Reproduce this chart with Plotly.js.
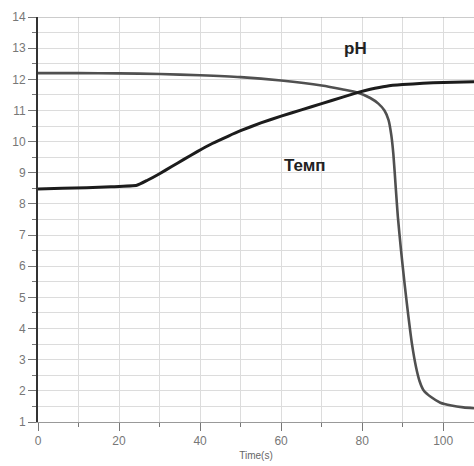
<!DOCTYPE html>
<html><head><meta charset="utf-8">
<script src="https://cdn.plot.ly/plotly-3.0.1.min.js"></script>
<style>html,body{margin:0;padding:0;background:#fff}#c{width:474px;height:466px}</style>
</head><body><div id="c"></div>
<script>
const phTime = [0, 10, 20, 30, 40, 50, 60, 70, 75, 79, 82, 84, 85.5, 86.5, 87.2, 87.7, 88.3, 88.8, 89.6, 90.5, 91.4, 92.3, 93.3, 94.2, 95.1, 97, 99.3, 102, 105, 107.6];
const phValues = [12.2, 12.2, 12.19, 12.17, 12.13, 12.07, 11.96, 11.8, 11.68, 11.57, 11.4, 11.22, 11.0, 10.7, 10.2, 9.6, 8.5, 7.6, 6.5, 5.4, 4.4, 3.5, 2.76, 2.3, 2.03, 1.8, 1.62, 1.53, 1.47, 1.44];
const tempTime = [0, 6, 12, 18, 24.4, 27, 30, 33, 36, 39.3, 43, 47, 50, 55, 60, 65, 70, 75, 79, 82, 86, 90, 95, 100, 107.6];
const tempValues = [8.48, 8.5, 8.52, 8.55, 8.6, 8.76, 8.97, 9.2, 9.43, 9.68, 9.94, 10.18, 10.35, 10.6, 10.82, 11.02, 11.22, 11.42, 11.58, 11.68, 11.78, 11.83, 11.87, 11.9, 11.92];
const xTickVals = [0, 20, 40, 60, 80, 100];
const yTickVals = [1,2,3,4,5,6,7,8,9,10,11,12,13,14];
const labelPH = "pH";
const labelTemp = "Темп";
const xTitle = "Time(s)";

const data = [
  {x: phTime, y: phValues, mode: 'lines', line: {color: '#505050', width: 2.6, shape: 'spline', smoothing: 0.6}, hoverinfo: 'skip'},
  {x: tempTime, y: tempValues, mode: 'lines', line: {color: '#1c1c1c', width: 3, shape: 'spline', smoothing: 0.4}, hoverinfo: 'skip'}
];
const tickFont = {family: 'Liberation Sans, Arial, sans-serif', size: 12, color: '#777'};
const layout = {
  width: 474, height: 466,
  margin: {l: 38, r: 0, t: 17, b: 44},
  paper_bgcolor: '#fff', plot_bgcolor: '#fff',
  showlegend: false,
  xaxis: {
    range: [0, 107.6], tickvals: xTickVals, ticks: 'outside', ticklen: 8, tickcolor: '#777', tickwidth: 1,
    showgrid: true, gridcolor: '#dcdcdc', gridwidth: 1, zeroline: false,
    showline: true, linecolor: '#999', linewidth: 1,
    minor: {dtick: 10, showgrid: true, gridcolor: '#dcdcdc', ticks: 'outside', ticklen: 4, tickcolor: '#777'},
    tickfont: tickFont,
    title: {text: xTitle, font: {family: 'Liberation Sans, Arial, sans-serif', size: 10, color: '#666'}, standoff: 4}
  },
  yaxis: {
    range: [1, 14], tickvals: yTickVals, ticks: 'outside', ticklen: 8, tickcolor: '#777', tickwidth: 1,
    showgrid: true, gridcolor: '#dcdcdc', gridwidth: 1, zeroline: false,
    showline: true, linecolor: '#333', linewidth: 2, mirror: false,
    minor: {dtick: 0.5, showgrid: true, gridcolor: '#dcdcdc', ticks: 'outside', ticklen: 4, tickcolor: '#777'},
    tickfont: tickFont
  },
  shapes: [{type: 'line', xref: 'paper', yref: 'y', x0: 0, x1: 1, y0: 14, y1: 14, line: {color: '#999', width: 1}}],
  annotations: [
    {x: 78.3, y: 13.0, xref: 'x', yref: 'y', text: labelPH, showarrow: false, font: {family: 'Liberation Sans, Arial, sans-serif', size: 17, color: '#222', weight: 'bold'}},
    {x: 65.9, y: 9.22, xref: 'x', yref: 'y', text: labelTemp, showarrow: false, font: {family: 'Liberation Sans, Arial, sans-serif', size: 17, color: '#222', weight: 'bold'}}
  ]
};
Plotly.newPlot('c', data, layout, {staticPlot: true, displayModeBar: false});
</script></body></html>
